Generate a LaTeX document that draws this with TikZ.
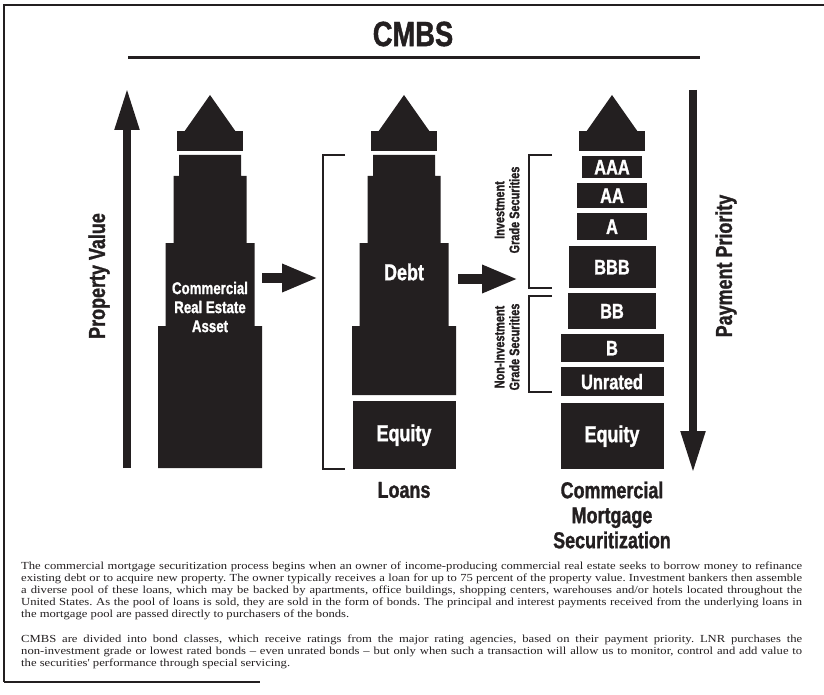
\documentclass[tikz,border=0pt]{standalone}
\usepackage{fontspec}
\setmainfont{Liberation Serif}
\newfontfamily\condfont[FakeStretch=0.78,BoldFeatures={FakeBold=1.2}]{Liberation Sans}
\newfontfamily\bodyfont[FakeStretch=1.17]{Liberation Serif}
\usepackage{tikz}
\usetikzlibrary{arrows.meta}
\definecolor{ink}{HTML}{231F20}

\begin{document}
\begin{tikzpicture}[x=1pt,y=-1pt,
  tranche/.style={fill=ink,text=white,inner sep=0pt,anchor=north,font=\condfont\bfseries\fontsize{21}{21}\selectfont},
  bigtext/.style={text=ink,align=center,font=\condfont\bfseries\fontsize{23}{25}\selectfont},
  sidetext/.style={bigtext,rotate=90},
  grade/.style={text=ink,align=center,rotate=90,font=\condfont\bfseries\fontsize{14}{15}\selectfont},
  bracket/.style={draw=ink,line width=1.2pt},
  flow/.style={draw=ink,line width=10pt,-{Triangle[length=36pt,width=26pt]}},
  scalearrow/.style={draw=ink,line width=8pt,-{Triangle[length=42pt,width=23pt]}}]

\useasboundingbox (0,0) rectangle (824,695);

% frame and title
\draw[ink,line width=1.4pt] (4,682) -- (4,5) -- (824,5);
\draw[ink,line width=1.4pt] (4,682) -- (260,682);
\node[text=ink,font=\condfont\bfseries\fontsize{35}{35}\selectfont] (title) at (413,34) {CMBS};
\draw[ink,line width=3pt] (128,58) -- (700,58);

\coordinate (pv-foot) at (127,468);
\coordinate (pv-top) at (127,88);
\draw[scalearrow] (pv-foot) -- (pv-top);
\node[sidetext] (pv) at (99,276) {Property Value};

% spires and caps
\foreach \cx in {210,404,612} {
  \fill[ink] (\cx-26,132) -- (\cx,95) -- (\cx+26,132) -- cycle;
  \fill[ink] (\cx-33,131) rectangle (\cx+33,151);
}
% stepped towers
\foreach \cx/\bot in {210/468,404/395} {
  \fill[ink] (\cx-31,155) -- (\cx+31,155) -- (\cx+31,176) -- (\cx+36.5,176)
    -- (\cx+36.5,243) -- (\cx+44.5,243) -- (\cx+44.5,326) -- (\cx+52,326)
    -- (\cx+52,\bot) -- (\cx-52,\bot) -- (\cx-52,326) -- (\cx-44.5,326)
    -- (\cx-44.5,243) -- (\cx-36.5,243) -- (\cx-36.5,176) -- (\cx-31,176) -- cycle;
}

\node[text=white,align=center,font=\condfont\bfseries\fontsize{17}{19}\selectfont] (asset) at (210,307) {Commercial\\Real Estate\\Asset};

\coordinate (asset-out) at (262,278);
\coordinate (debt-in) at (318,278);
\draw[flow] (asset-out) -- (debt-in);

\draw[bracket] (345,155) -- (323,155) -- (323,469) -- (345,469);
\node[bigtext,text=white] (debt) at (404,272) {Debt};
\node[tranche,minimum width=103pt,minimum height=68pt,font=\condfont\bfseries\fontsize{23}{23}\selectfont] (loan-equity) at (404,401) {Equity};
\node[bigtext] (loans) at (404,490) {Loans};

\coordinate (debt-out) at (458,279);
\coordinate (pool-in) at (518,279);
\draw[flow] (debt-out) -- (pool-in);

\foreach \name/\w/\top/\h in {AAA/60/156/22, AA/70/183/25, A/70/213/27, BBB/87/246/42, BB/88/293/36, B/103/334/28, Unrated/103/367/29} {
  \node[tranche,minimum width=\w pt,minimum height=\h pt] (\name) at (612,\top) {\name};
}
\node[tranche,minimum width=103pt,minimum height=66pt,font=\condfont\bfseries\fontsize{23}{23}\selectfont] (cmbs-equity) at (612,403) {Equity};

\draw[bracket] (552,155) -- (529,155) -- (529,288) -- (552,288);
\draw[bracket] (552,296) -- (529,296) -- (529,392) -- (552,392);
\node[grade] (inv) at (507,210) {Investment\\Grade Securities};
\node[grade] (noninv) at (507,347) {Non-Investment\\Grade Securities};

\node[bigtext] (securitization) at (612,515) {Commercial\\Mortgage\\Securitization};

\coordinate (pp-top) at (693,90);
\coordinate (pp-foot) at (693,473);
\draw[scalearrow] (pp-top) -- (pp-foot);
\node[sidetext] (pp) at (726,266) {Payment Priority};

\node[anchor=north west,inner sep=0pt,text width=781pt,align=justify,text=ink,font=\bodyfont\fontsize{10.8}{12}\selectfont\frenchspacing] (blurb) at (21,562) {The commercial mortgage securitization process begins when an owner of income-producing commercial real estate seeks to borrow money to refinance\linebreak existing debt or to acquire new property. The owner typically receives a loan for up to 75 percent of the property value. Investment bankers then assemble\linebreak a diverse pool of these loans, which may be backed by apartments, office buildings, shopping centers, warehouses and/or hotels located throughout the\linebreak United States. As the pool of loans is sold, they are sold in the form of bonds. The principal and interest payments received from the underlying loans in\linebreak the mortgage pool are passed directly to purchasers of the bonds.\\[13pt]
CMBS are divided into bond classes, which receive ratings from the major rating agencies, based on their payment priority. LNR purchases the\linebreak non-investment grade or lowest rated bonds – even unrated bonds – but only when such a transaction will allow us to monitor, control and add value to\linebreak the securities' performance through special servicing.};

\end{tikzpicture}
\end{document}
